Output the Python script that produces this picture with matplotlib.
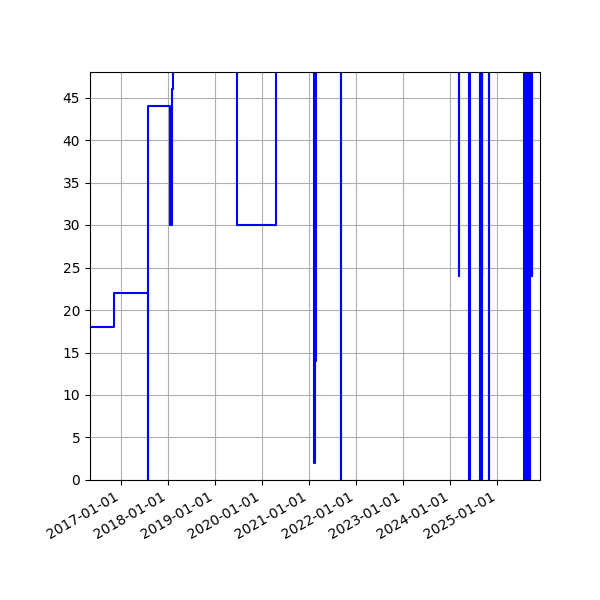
import numpy as np
import pandas as pd
import matplotlib
matplotlib.use("Agg")
import matplotlib.dates as mdates
from matplotlib import pyplot as plt
from matplotlib.ticker import MultipleLocator

# step changes (values above 48 are clipped)
dates = [
    "2016-05-06", "2016-11-10", "2017-07-27", "2017-07-30", "2018-01-16",
    "2018-01-31", "2018-02-08", "2019-06-22", "2020-04-18", "2021-02-10",
    "2021-02-12", "2021-02-18", "2021-02-20", "2021-09-05", "2021-09-07",
    "2024-03-09", "2024-03-11", "2024-05-28", "2024-05-30", "2024-08-15",
    "2024-08-17", "2024-08-29", "2024-08-31", "2024-09-03", "2024-09-05",
    "2024-10-29", "2024-10-31", "2025-07-28", "2025-07-30", "2025-08-08",
    "2025-08-10", "2025-08-20", "2025-08-22", "2025-09-10", "2025-09-12",
    "2025-09-24", "2025-09-26", "2025-11-27",
]
values = [
    18, 22, 0, 44, 30, 46, 60, 30, 60, 2,
    60, 14, 60, 0, 60, 24, 60, 0, 60, 0,
    60, 0, 60, 24, 60, 0, 60, 0, 60, 0,
    60, 0, 60, 0, 60, 24, 60, 60,
]

x = pd.to_datetime(dates)
y = np.array(values)

fig, ax = plt.subplots(figsize=(6, 6), dpi=100)
ax.plot(x, y, color="blue", drawstyle="steps-post")
ax.set_ylim(0, 48)
ax.set_xlim(x[0], x[-1])
ax.yaxis.set_major_locator(MultipleLocator(5))
ax.xaxis.set_major_locator(mdates.YearLocator())
ax.xaxis.set_major_formatter(mdates.DateFormatter("%Y-%m-%d"))
ax.grid(True)
fig.autofmt_xdate()
fig.subplots_adjust(left=0.15, right=0.9, top=0.88, bottom=0.2)
fig.savefig("out.png")
